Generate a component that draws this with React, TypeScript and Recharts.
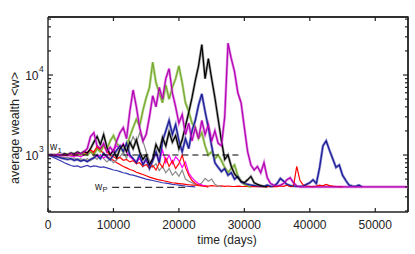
import React from 'react';
import { LineChart, Line, XAxis, YAxis, Customized, ReferenceLine } from 'recharts';

// time grid: one sample every 500 days
const days = Array.from({ length: 111 }, (_, i) => i * 500);

const xTicks = [0, 10000, 20000, 30000, 40000, 50000];
const yTicks = [
  200, 300, 400, 500, 600, 700, 800, 900, 1000,
  2000, 3000, 4000, 5000, 6000, 7000, 8000, 9000, 10000,
  20000, 30000, 40000, 50000,
];
const majorY = [1000, 10000];
const xMax = 55000;
const yDomain = [194, 53100];

const black = [
  1000, 1010, 990, 1020, 1000, 1040, 1010, 1060, 1030, 1090,
  1040, 1110, 1060, 1200, 1450, 1700, 1350, 1800, 1250, 1000,
  1150, 920, 1200, 1350, 1100, 1450, 1200, 1550, 1100, 880,
  1000, 760, 900, 1350, 1100, 1650, 1300, 1950, 1450, 1750,
  1200, 1550, 2300, 3400, 5200, 8500, 13000, 24000, 9000, 16000,
  9000, 5200, 2800, 1500, 880, 1000, 720, 580, 520, 470,
  450, 490, 540, 450, 430, 415, 405, 400,
];

const gray = [
  1000, 990, 980, 960, 950, 930, 940, 900, 920, 880,
  900, 860, 900, 850, 950, 880, 1000, 900, 820, 900,
  800, 880, 950, 1100, 900, 1300, 1700, 1400, 1900, 1500,
  1100, 850, 700, 780, 640, 720, 600, 680, 560, 620,
  540, 650, 500, 470, 450, 430, 420, 450, 510, 470,
  500, 430, 410, 400,
];

const redLow = [
  1000, 1000, 1010, 990, 1000, 1020, 990, 1030, 1000, 1050,
  1020, 1100, 1050, 1150, 1100, 1250, 1150, 1050, 950, 900,
  860, 800, 760, 720, 690, 660, 640, 610, 590, 570,
  550, 530, 515, 500, 490, 480, 470, 460, 450, 445,
  440, 435, 430, 425, 420, 420, 415, 418, 412, 410,
  415, 410, 408, 412, 405, 410, 406, 404, 408, 405,
  404, 406, 403, 405, 402, 404, 403, 405, 402, 404,
  403, 410, 405, 420, 403, 405, 720, 480, 420, 408,
  405, 403, 410, 420, 412, 430, 415, 408, 404, 402,
  400,
];

const redHigh = [
  1000, 1005, 995, 1010, 1000, 990, 1010, 1000, 1020, 1000,
  1040, 1010, 1080, 1150, 1050, 1300, 1200, 1330, 1100, 1000,
  950, 900, 930, 860, 880, 820, 850, 780, 800, 720,
  760, 680, 740, 650, 800, 700, 920, 720, 850, 680,
  780, 1000, 700, 560, 480, 440, 420, 410, 405, 400,
];

const pink = [
  1000, 995, 990, 985, 980, 975, 990, 970, 960, 980,
  950, 1000, 1050, 1120, 1000, 950, 1000, 920, 980, 1050,
  1150, 1300, 1200, 1400, 1100, 950, 880, 820, 900, 780,
  850, 750, 900, 1050, 850, 1150, 800, 1000, 780, 950,
  850, 700, 820, 600, 520, 470, 440, 420, 410, 400,
];

const navyLow = [
  1000, 960, 920, 880, 840, 800, 770, 740, 720, 730,
  700, 720, 740, 710, 730, 720, 700, 710, 690, 670,
  650, 640, 620, 600, 590, 570, 560, 545, 530, 515,
  500, 490, 480, 470, 460, 450, 445, 438, 430, 425,
  420, 415, 410, 406, 403, 400,
];

const blue = [
  1000, 990, 970, 950, 920, 900, 880, 900, 860, 880,
  840, 870, 830, 880, 920, 1000, 900, 1050, 950, 870,
  1000, 1150, 1300, 1100, 1400, 1000, 900, 800, 1000, 750,
  900, 680, 850, 1100, 800, 1500, 2000, 2700, 1800, 2400,
  1500, 1100, 1600, 1200, 2000, 2700, 4200, 5800, 3500, 2200,
  1300, 800, 700, 620, 680, 560, 600, 500, 540, 460,
  440, 430, 420, 415, 410, 408, 405, 420, 405, 410,
  440, 510, 470, 430, 415, 410, 405, 405, 410, 430,
  450, 490, 440, 700, 1300, 1500, 1150, 900, 700, 750,
  560, 480, 420, 410, 405, 420, 400,
];

const green = [
  1000, 1000, 1010, 990, 1010, 1000, 1030, 1000, 1050, 1020,
  1000, 1050, 1000, 1100, 1000, 1200, 1100, 1300, 1200, 1500,
  1750, 1400, 1250, 1100, 1300, 1700, 2200, 2800, 2300, 3600,
  5200, 7000, 14500, 8000, 6000, 4500, 7500, 5000, 7000, 9000,
  13000, 8000, 4500, 3500, 2500, 2200, 1600, 1900, 1300, 1000,
  1100, 900, 1000, 850, 700, 600, 680, 750, 550, 470,
  430, 410, 400,
];

const magenta = [
  1000, 1005, 1000, 1010, 1000, 1020, 1000, 1040, 1010, 1070,
  1030, 1100, 1200, 1700, 1900, 1300, 1200, 1400, 1100, 1250,
  1100, 1500, 1900, 2200, 1600, 3500, 6500, 4000, 2200, 1500,
  1800, 3000, 5500, 4000, 7000, 5000, 9000, 12000, 6000, 4000,
  2500, 3200, 1800, 2500, 1500, 2200, 1600, 2700, 1800, 2400,
  1500, 2000, 1400, 1300, 3000, 25000, 16000, 11000, 6000, 4500,
  2200, 1100, 750, 650, 720, 600, 800, 520, 440, 420,
  410, 420, 440, 490, 520, 450, 410, 400, 400, 400,
  400, 400, 400, 400, 400, 400, 400, 400, 400, 400,
  400, 400, 400, 400, 400, 400, 400, 400, 400, 400,
  400, 400, 400, 400, 400, 400, 400, 400, 400, 400,
  400,
];

// reference levels w1 and wP
const w1Days = [2200, 29500];
const w1Value = 1000;
const wPDays = [9800, 21000];
const wPValue = 395;

const pts = (vals: number[]) => vals.map((w, i) => ({ t: days[i], w }));
const flat = (ts: number[], w: number) => ts.map((t) => ({ t, w }));

const PL = 48;
const PR = 408;
const PT = 17;
const PB = 212;
const AX = '#222';
const FONT = '"Liberation Sans", Arial, sans-serif';

const series = [
  { name: 'redLow', data: redLow, color: '#FF0000', halo: null },
  { name: 'navyLow', data: navyLow, color: '#3A3AB4', halo: null },
  { name: 'gray', data: gray, color: '#8C8C8C', halo: null },
  { name: 'pink', data: pink, color: '#FF00FF', halo: null },
  { name: 'redHigh', data: redHigh, color: '#FF1010', halo: null },
  { name: 'green', data: green, color: '#78A832', halo: '#B8D890' },
  { name: 'blue', data: blue, color: '#1C1C96', halo: '#8C8CD0' },
  { name: 'black', data: black, color: '#000000', halo: '#A0A0A0' },
  { name: 'magenta', data: magenta, color: '#B400B4', halo: '#E090E0' },
];

// left ticks also draw their mirror on the right frame
const YTick = (props: any) => {
  const { y, payload } = props;
  const major = majorY.includes(payload.value);
  const len = major ? 5 : 3;
  return (
    <g>
      <line x1={PL} x2={PL + len} y1={y} y2={y} stroke={AX} strokeWidth={1.2} />
      <line x1={PR} x2={PR - len} y1={y} y2={y} stroke={AX} strokeWidth={1.2} />
      {major && (
        <>
          <text x={38.5} y={y + 4.5} textAnchor="end" fontSize={12} fill="#222" fontFamily={FONT}>
            10
          </text>
          <text x={39} y={y - 3} fontSize={8.5} fill="#222" fontFamily={FONT}>
            {Math.round(Math.log10(payload.value))}
          </text>
        </>
      )}
    </g>
  );
};

// bottom ticks also draw their mirror on the top frame
const XTick = (props: any) => {
  const { x, payload } = props;
  return (
    <g>
      <line x1={x} x2={x} y1={PB} y2={PB - 4} stroke={AX} strokeWidth={1.2} />
      {payload.value > 0 && <line x1={x} x2={x} y1={PT} y2={PT + 4} stroke={AX} strokeWidth={1.2} />}
      <text x={x} y={229} textAnchor="middle" fontSize={12} fill="#222" fontFamily={FONT}>
        {payload.value}
      </text>
    </g>
  );
};

const Labels = () => (
  <g fontFamily={FONT} fill="#222">
    <path d={`M${PL},${PT}H${PR}V${PB}`} fill="none" stroke={AX} strokeWidth={1.4} />
    <text x={227} y={244} textAnchor="middle" fontSize={12}>time (days)</text>
    <text x={18.5} y={128} textAnchor="middle" fontSize={12.5} transform="rotate(-90, 18.5, 128)">
      {'average wealth <w>'}
    </text>
    <text x={50} y={149.5} fontSize={10}>w</text>
    <text x={57.5} y={153} fontSize={8}>1</text>
    <text x={95} y={189.5} fontSize={10}>w</text>
    <text x={102.5} y={192} fontSize={7.5}>P</text>
  </g>
);

export default function App() {
  return (
    <div style={{ position: 'absolute', left: 0, top: 0, background: '#fff' }}>
      <LineChart width={415} height={254} margin={{ top: PT, right: 415 - PR, bottom: 12, left: 8 }}>
        <XAxis
          type="number"
          dataKey="t"
          domain={[0, xMax]}
          ticks={xTicks}
          interval={0}
          height={30}
          tickLine={false}
          tick={XTick}
          axisLine={{ stroke: AX, strokeWidth: 1.4 }}
          allowDataOverflow
        />
        <YAxis
          type="number"
          scale="log"
          domain={yDomain}
          ticks={yTicks}
          interval={0}
          width={40}
          tickLine={false}
          tick={YTick}
          axisLine={{ stroke: AX, strokeWidth: 1.4 }}
          allowDataOverflow
        />
        {/* top and right sides of the frame */}
        <ReferenceLine y={yDomain[1]} stroke={AX} strokeWidth={1.4} ifOverflow="visible" />
        <ReferenceLine x={xMax} stroke={AX} strokeWidth={1.4} ifOverflow="visible" />
        {series
          .filter((s) => s.halo)
          .map((s) => (
            <Line
              key={s.name + '-halo'}
              data={pts(s.data)}
              dataKey="w"
              type="linear"
              stroke={s.halo as string}
              strokeWidth={2.6}
              dot={false}
              isAnimationActive={false}
            />
          ))}
        {series.map((s) => (
          <Line
            key={s.name}
            data={pts(s.data)}
            dataKey="w"
            type="linear"
            stroke={s.color}
            strokeWidth={1.2}
            dot={false}
            isAnimationActive={false}
          />
        ))}
        <Line
          data={flat(w1Days, w1Value)}
          dataKey="w"
          stroke="#000"
          strokeWidth={1.2}
          strokeDasharray="6 4"
          dot={false}
          isAnimationActive={false}
        />
        <Line
          data={flat(wPDays, wPValue)}
          dataKey="w"
          stroke="#333"
          strokeWidth={1.3}
          strokeDasharray="7 4"
          dot={false}
          isAnimationActive={false}
        />
        <Customized component={Labels} />
      </LineChart>
    </div>
  );
}
